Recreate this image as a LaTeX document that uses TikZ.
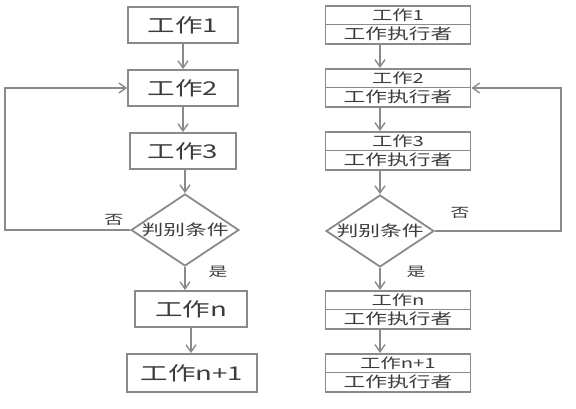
\documentclass[tikz,border=0pt]{standalone}
\usepackage{fontspec}
\newfontfamily\cjk[FakeStretch=1.45]{Noto Sans CJK SC}
\usetikzlibrary{arrows.meta,positioning,shapes.geometric,shapes.multipart}
\definecolor{EdgeGray}{HTML}{8A8A8A}
\definecolor{TextGray}{HTML}{3C3C3C}
\newcommand{\cjksize}[1]{\cjk\fontsize{#1}{#1}\selectfont}

\begin{document}
\begin{tikzpicture}[x=1pt,y=-1pt,
  task/.style={rectangle,draw=EdgeGray,line width=1.8pt,minimum width=110pt,minimum height=36pt,inner sep=2pt,text=TextGray,font=\cjksize{19}},
  duo/.style={rectangle split,rectangle split parts=2,draw=EdgeGray,line width=1.8pt,minimum width=145pt,inner xsep=2pt,inner ysep=2pt,text=TextGray,font=\cjksize{14}},
  decide/.style={diamond,aspect=1.5,draw=EdgeGray,line width=1.8pt,minimum width=96pt,minimum height=64pt,inner sep=0pt,text=TextGray,font=\cjksize{15}},
  flow/.style={-{Straight Barb[length=2.5mm,width=3.5mm]},EdgeGray,line width=1.4pt},
  label/.style={text=TextGray,font=\cjksize{13}}
]
\useasboundingbox (0,0) rectangle (576,409);
% left flow
\node[task] (A1) at (183,25) {工作1};
\node[task] (A2) at (183,88) {工作2};
\node[task,minimum width=106pt] (A3) at (183,151) {工作3};
\node[decide] (Ad) at (185,230) {判别条件};
\node[task,minimum width=112pt] (An) at (191,309) {工作n};
\node[task,minimum width=130pt,minimum height=38pt] (An1) at (192,373) {工作n+1};
\draw[flow] (A1) -- (A2);
\draw[flow] (A2) -- (A3);
\draw[flow] (A3.south -| Ad) -- (Ad.north);
\draw[flow] (Ad.south) -- (Ad.south |- An.north);
\draw[flow] (An.south) -- (An.south |- An1.north);
\draw[flow] (Ad.west) -- node[label,above,pos=0.13] {否} ++(-125,0) |- (A2.west);
\node[label] at (218,272) {是};
% right flow
\node[duo] (B1) at (398,25) {工作1\nodepart{two}\cjksize{15}工作执行者};
\node[duo] (B2) at (398,88) {工作2\nodepart{two}\cjksize{15}工作执行者};
\node[duo] (B3) at (398,151) {工作3\nodepart{two}\cjksize{15}工作执行者};
\node[decide] (Bd) at (380,231) {判别条件};
\node[duo] (Bn) at (398,310) {工作n\nodepart{two}\cjksize{15}工作执行者};
\node[duo] (Bn1) at (398,373) {工作n+1\nodepart{two}\cjksize{15}工作执行者};
\draw[flow] (B1.south -| Bd) -- (Bd |- B2.north);
\draw[flow] (B2.south -| Bd) -- (Bd |- B3.north);
\draw[flow] (B3.south -| Bd) -- (Bd.north);
\draw[flow] (Bd.south) -- (Bd |- Bn.north);
\draw[flow] (Bn.south -| Bd) -- (Bd |- Bn1.north);
\draw[flow] (Bd.east) -- node[label,above,pos=0.2,yshift=8pt] {否} ++(126,0) |- (B2.east);
\node[label] at (416,272) {是};
\end{tikzpicture}
\end{document}
